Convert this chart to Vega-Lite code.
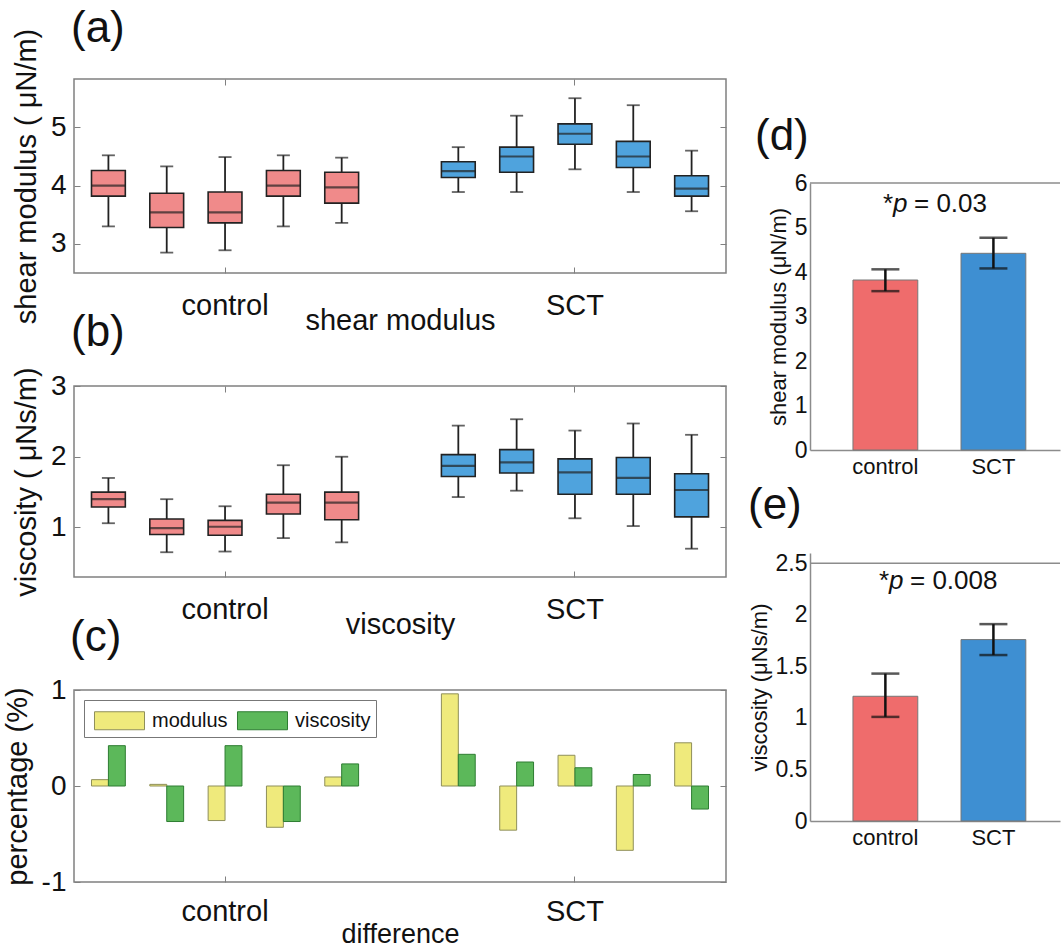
{
  "$schema": "https://vega.github.io/schema/vega-lite/v6.json",
  "padding": {"left": 2, "top": 6, "right": 0, "bottom": 0},
  "background": "white",
  "config": {
    "font": "Liberation Sans",
    "view": {"stroke": null},
    "axis": {"grid": false, "labelColor": "#111", "titleColor": "#111", "labelFont": "Liberation Sans", "titleFont": "Liberation Sans", "titleFontWeight": "normal"},
    "title": {"font": "Liberation Sans", "fontWeight": "normal", "color": "#111", "anchor": "start", "frame": "group", "baseline": "alphabetic", "fontSize": 44},
    "legend": {"labelFont": "Liberation Sans"}
  },
  "datasets": {
    "mod_box": [
      {"sample": "C1", "group": "control", "lo": 3.30, "q1": 3.82, "med": 4.00, "q3": 4.26, "hi": 4.52},
      {"sample": "C2", "group": "control", "lo": 2.85, "q1": 3.28, "med": 3.54, "q3": 3.87, "hi": 4.33},
      {"sample": "C3", "group": "control", "lo": 2.89, "q1": 3.36, "med": 3.54, "q3": 3.89, "hi": 4.49},
      {"sample": "C4", "group": "control", "lo": 3.30, "q1": 3.82, "med": 4.00, "q3": 4.26, "hi": 4.52},
      {"sample": "C5", "group": "control", "lo": 3.36, "q1": 3.70, "med": 3.97, "q3": 4.23, "hi": 4.48},
      {"sample": "S1", "group": "SCT", "lo": 3.89, "q1": 4.14, "med": 4.25, "q3": 4.41, "hi": 4.66},
      {"sample": "S2", "group": "SCT", "lo": 3.89, "q1": 4.23, "med": 4.50, "q3": 4.66, "hi": 5.20},
      {"sample": "S3", "group": "SCT", "lo": 4.28, "q1": 4.71, "med": 4.89, "q3": 5.06, "hi": 5.50},
      {"sample": "S4", "group": "SCT", "lo": 3.89, "q1": 4.31, "med": 4.50, "q3": 4.76, "hi": 5.38},
      {"sample": "S5", "group": "SCT", "lo": 3.56, "q1": 3.82, "med": 3.95, "q3": 4.17, "hi": 4.60}
    ],
    "visc_box": [
      {"sample": "C1", "group": "control", "lo": 1.06, "q1": 1.29, "med": 1.40, "q3": 1.50, "hi": 1.70},
      {"sample": "C2", "group": "control", "lo": 0.65, "q1": 0.90, "med": 0.99, "q3": 1.12, "hi": 1.40},
      {"sample": "C3", "group": "control", "lo": 0.66, "q1": 0.89, "med": 1.01, "q3": 1.10, "hi": 1.30},
      {"sample": "C4", "group": "control", "lo": 0.85, "q1": 1.19, "med": 1.35, "q3": 1.47, "hi": 1.88},
      {"sample": "C5", "group": "control", "lo": 0.79, "q1": 1.11, "med": 1.35, "q3": 1.50, "hi": 2.00},
      {"sample": "S1", "group": "SCT", "lo": 1.43, "q1": 1.72, "med": 1.87, "q3": 2.03, "hi": 2.44},
      {"sample": "S2", "group": "SCT", "lo": 1.52, "q1": 1.77, "med": 1.92, "q3": 2.10, "hi": 2.53},
      {"sample": "S3", "group": "SCT", "lo": 1.13, "q1": 1.47, "med": 1.78, "q3": 1.97, "hi": 2.37},
      {"sample": "S4", "group": "SCT", "lo": 1.02, "q1": 1.47, "med": 1.70, "q3": 1.99, "hi": 2.47},
      {"sample": "S5", "group": "SCT", "lo": 0.70, "q1": 1.15, "med": 1.53, "q3": 1.76, "hi": 2.31}
    ],
    "diff": [
      {"sample": "C1", "measure": "modulus", "value": 0.066}, {"sample": "C1", "measure": "viscosity", "value": 0.42},
      {"sample": "C2", "measure": "modulus", "value": 0.017}, {"sample": "C2", "measure": "viscosity", "value": -0.37},
      {"sample": "C3", "measure": "modulus", "value": -0.36}, {"sample": "C3", "measure": "viscosity", "value": 0.42},
      {"sample": "C4", "measure": "modulus", "value": -0.43}, {"sample": "C4", "measure": "viscosity", "value": -0.37},
      {"sample": "C5", "measure": "modulus", "value": 0.094}, {"sample": "C5", "measure": "viscosity", "value": 0.23},
      {"sample": "S1", "measure": "modulus", "value": 0.96}, {"sample": "S1", "measure": "viscosity", "value": 0.33},
      {"sample": "S2", "measure": "modulus", "value": -0.46}, {"sample": "S2", "measure": "viscosity", "value": 0.25},
      {"sample": "S3", "measure": "modulus", "value": 0.32}, {"sample": "S3", "measure": "viscosity", "value": 0.19},
      {"sample": "S4", "measure": "modulus", "value": -0.67}, {"sample": "S4", "measure": "viscosity", "value": 0.12},
      {"sample": "S5", "measure": "modulus", "value": 0.45}, {"sample": "S5", "measure": "viscosity", "value": -0.24}
    ],
    "mod_mean": [
      {"group": "control", "mean": 3.82, "lo": 3.57, "hi": 4.06},
      {"group": "SCT", "mean": 4.42, "lo": 4.08, "hi": 4.77}
    ],
    "visc_mean": [
      {"group": "control", "mean": 1.21, "lo": 1.01, "hi": 1.43},
      {"group": "SCT", "mean": 1.76, "lo": 1.61, "hi": 1.91}
    ]
  },
  "spacing": 20,
  "resolve": {"scale": {"color": "independent", "stroke": "independent"}},
  "hconcat": [
    {
      "spacing": 113,
      "bounds": "flush",
      "resolve": {"scale": {"color": "independent", "stroke": "independent"}},
      "vconcat": [
        {
          "width": 652, "height": 194,
          "data": {"name": "mod_box"},
          "title": {"text": "(a)", "offset": -23, "dx": -3},
          "view": {"stroke": "#808080", "strokeWidth": 1.5},
          "resolve": {"axis": {"x": "independent", "y": "independent"}},
          "layer": [
            {"mark": {"type": "rule", "color": "#222", "strokeWidth": 1.8},
             "encoding": {
               "x": {"field": "sample", "type": "nominal",
                 "scale": {"domain": ["C1","C2","C3","C4","C5","gap","S1","S2","S3","S4","S5"], "paddingInner": 0.42, "paddingOuter": 0.3},
                 "axis": {"values": ["C3","S3"], "labelExpr": "datum.value == 'C3' ? 'control' : 'SCT'", "labelAngle": 0, "labelFontSize": 29, "title": "shear modulus", "titleFontSize": 29, "titlePadding": -14, "domain": false, "tickSize": -6, "tickColor": "#808080", "labelPadding": 24}},
               "y": {"field": "lo", "type": "quantitative", "scale": {"domain": [2.5, 5.83]},
                 "axis": {"values": [3,4,5], "labelExpr": "'' + datum.value", "labelFontSize": 28, "title": "shear modulus ( μN/m)", "titleFontSize": 29, "titlePadding": 9, "domain": false, "tickSize": -6, "tickColor": "#808080", "labelPadding": 14}},
               "y2": {"field": "hi"}}},
            {"mark": {"type": "tick", "orient": "horizontal", "size": 13, "thickness": 1.8, "color": "#222"},
             "encoding": {
               "x": {"field": "sample", "type": "nominal", "axis": {"orient": "top", "values": ["C3","S3"], "labels": false, "title": null, "domain": false, "tickSize": -6, "tickColor": "#808080"}},
               "y": {"field": "lo", "type": "quantitative", "scale": {"domain": [2.5, 5.83]}, "axis": {"orient": "right", "values": [3,4,5], "labels": false, "title": null, "domain": false, "tickSize": -6, "tickColor": "#808080"}}}},
            {"mark": {"type": "tick", "orient": "horizontal", "size": 13, "thickness": 1.8, "color": "#222"},
             "encoding": {"x": {"field": "sample", "type": "nominal", "axis": null}, "y": {"field": "hi", "type": "quantitative", "scale": {"domain": [2.5, 5.83]}, "axis": null}}},
            {"mark": {"type": "bar", "stroke": "#222", "strokeWidth": 1.6},
             "encoding": {"x": {"field": "sample", "type": "nominal", "axis": null}, "y": {"field": "q1", "type": "quantitative", "scale": {"domain": [2.5, 5.83]}, "axis": null}, "y2": {"field": "q3"},
               "color": {"field": "group", "type": "nominal", "scale": {"domain": ["control","SCT"], "range": ["#F08A8A","#4FA3DD"]}, "legend": null}}},
            {"mark": {"type": "tick", "orient": "horizontal", "size": 34, "thickness": 2.2, "color": "#222"},
             "encoding": {"x": {"field": "sample", "type": "nominal", "axis": null}, "y": {"field": "med", "type": "quantitative", "scale": {"domain": [2.5, 5.83]}, "axis": null}}}
          ]
        },
        {
          "width": 652, "height": 191,
          "data": {"name": "visc_box"},
          "title": {"text": "(b)", "offset": 12, "dx": -3},
          "view": {"stroke": "#808080", "strokeWidth": 1.5},
          "resolve": {"axis": {"x": "independent", "y": "independent"}},
          "layer": [
            {"mark": {"type": "rule", "color": "#222", "strokeWidth": 1.8},
             "encoding": {
               "x": {"field": "sample", "type": "nominal",
                 "scale": {"domain": ["C1","C2","C3","C4","C5","gap","S1","S2","S3","S4","S5"], "paddingInner": 0.42, "paddingOuter": 0.3},
                 "axis": {"values": ["C3","S3"], "labelExpr": "datum.value == 'C3' ? 'control' : 'SCT'", "labelAngle": 0, "labelFontSize": 29, "title": "viscosity", "titleFontSize": 29, "titlePadding": -14, "domain": false, "tickSize": -6, "tickColor": "#808080", "labelPadding": 24}},
               "y": {"field": "lo", "type": "quantitative", "scale": {"domain": [0.3, 3]},
                 "axis": {"values": [1,2,3], "labelExpr": "'' + datum.value", "labelFontSize": 28, "title": "viscosity ( μNs/m)", "titleFontSize": 29, "titlePadding": 9, "domain": false, "tickSize": -6, "tickColor": "#808080", "labelPadding": 14}},
               "y2": {"field": "hi"}}},
            {"mark": {"type": "tick", "orient": "horizontal", "size": 13, "thickness": 1.8, "color": "#222"},
             "encoding": {
               "x": {"field": "sample", "type": "nominal", "axis": {"orient": "top", "values": ["C3","S3"], "labels": false, "title": null, "domain": false, "tickSize": -6, "tickColor": "#808080"}},
               "y": {"field": "lo", "type": "quantitative", "scale": {"domain": [0.3, 3]}, "axis": {"orient": "right", "values": [1,2,3], "labels": false, "title": null, "domain": false, "tickSize": -6, "tickColor": "#808080"}}}},
            {"mark": {"type": "tick", "orient": "horizontal", "size": 13, "thickness": 1.8, "color": "#222"},
             "encoding": {"x": {"field": "sample", "type": "nominal", "axis": null}, "y": {"field": "hi", "type": "quantitative", "scale": {"domain": [0.3, 3]}, "axis": null}}},
            {"mark": {"type": "bar", "stroke": "#222", "strokeWidth": 1.6},
             "encoding": {"x": {"field": "sample", "type": "nominal", "axis": null}, "y": {"field": "q1", "type": "quantitative", "scale": {"domain": [0.3, 3]}, "axis": null}, "y2": {"field": "q3"},
               "color": {"field": "group", "type": "nominal", "scale": {"domain": ["control","SCT"], "range": ["#F08A8A","#4FA3DD"]}, "legend": null}}},
            {"mark": {"type": "tick", "orient": "horizontal", "size": 34, "thickness": 2.2, "color": "#222"},
             "encoding": {"x": {"field": "sample", "type": "nominal", "axis": null}, "y": {"field": "med", "type": "quantitative", "scale": {"domain": [0.3, 3]}, "axis": null}}}
          ]
        },
        {
          "width": 652, "height": 192,
          "data": {"name": "diff"},
          "title": {"text": "(c)", "offset": 16, "dx": -4},
          "view": {"stroke": "#808080", "strokeWidth": 1.5},
          "resolve": {"axis": {"x": "independent", "y": "independent"}},
          "layer": [
            {"mark": {"type": "bar", "orient": "vertical", "strokeWidth": 1},
             "encoding": {
               "x": {"field": "sample", "type": "nominal",
                 "scale": {"domain": ["C1","C2","C3","C4","C5","gap","S1","S2","S3","S4","S5"], "paddingInner": 0.42, "paddingOuter": 0.3},
                 "axis": {"values": ["C3","S3"], "labelExpr": "datum.value == 'C3' ? 'control' : 'SCT'", "labelAngle": 0, "labelFontSize": 29, "title": "difference", "titleFontSize": 27, "titlePadding": -5, "domain": false, "tickSize": -6, "tickColor": "#808080", "labelPadding": 21}},
               "y": {"field": "value", "type": "quantitative", "scale": {"domain": [-1, 1]},
                 "axis": {"values": [-1,0,1], "labelExpr": "'' + datum.value", "labelFontSize": 28, "title": "percentage (%)", "titleFontSize": 29, "titlePadding": 9, "domain": false, "tickSize": -6, "tickColor": "#808080", "labelPadding": 14}},
               "xOffset": {"field": "measure", "type": "nominal", "scale": {"domain": ["modulus","viscosity"]}},
               "color": {"field": "measure", "type": "nominal", "scale": {"domain": ["modulus","viscosity"], "range": ["#EFEA7C","#5CB85A"]},
                 "legend": {"title": null, "orient": "top-left", "direction": "horizontal", "offset": 10, "padding": 5, "strokeColor": "#777", "fillColor": "white", "symbolType": "M-0.667,-0.6L2.667,-0.6L2.667,0.6L-0.667,0.6Z", "symbolSize": 900, "symbolStrokeColor": "#666", "symbolStrokeWidth": 1, "labelFontSize": 20, "labelColor": "#111", "columnPadding": 4, "labelOffset": 32}},
               "stroke": {"field": "measure", "type": "nominal", "scale": {"domain": ["modulus","viscosity"], "range": ["#8f8f5a","#2e7d32"]}, "legend": null}
             }},
            {"data": {"values": [{"base": 0}]},
             "mark": {"type": "rule", "color": "#333", "strokeWidth": 1},
             "encoding": {
               "x": {"field": "base", "type": "nominal", "axis": null},
               "y": {"field": "base", "type": "quantitative", "scale": {"domain": [-1, 1]}, "axis": {"orient": "right", "values": [-1,0,1], "labels": false, "title": null, "domain": false, "tickSize": -6, "tickColor": "#808080"}}}}
          ]
        }
      ]
    },
    {
      "spacing": 103,
      "bounds": "flush",
      "resolve": {"scale": {"color": "independent", "stroke": "independent"}},
      "vconcat": [
        {
          "width": 250, "height": 1,
          "data": {"values": [{"blank": ""}]},
          "mark": {"type": "rect", "opacity": 0},
          "encoding": {}
        },
        {
          "width": 250, "height": 267,
          "data": {"name": "mod_mean"},
          "title": {"text": "(d)", "offset": 13, "dx": -55},
          "layer": [
            {"mark": {"type": "bar", "stroke": "#777", "strokeWidth": 1},
             "encoding": {
               "x": {"field": "group", "type": "nominal", "scale": {"domain": ["control","SCT"], "paddingInner": 0.4, "paddingOuter": 0.357, "align": 0.557},
                 "axis": {"title": null, "labelAngle": 0, "labelFontSize": 22, "ticks": false, "labelPadding": 6, "domainColor": "#8c8c8c", "domainWidth": 1.5}},
               "y": {"field": "mean", "type": "quantitative", "scale": {"domain": [0, 6]},
                 "axis": {"values": [0,1,2,3,4,5,6], "labelFontSize": 23, "title": "shear modulus (μN/m)", "titleFontSize": 22, "titlePadding": 4, "ticks": false, "labelPadding": 3, "domainColor": "#8c8c8c", "domainWidth": 1.5}},
               "color": {"field": "group", "type": "nominal", "scale": {"domain": ["control","SCT"], "range": ["#EF6C6C","#3E8FD2"]}, "legend": null}
             }},
            {"mark": {"type": "rule", "color": "#111", "strokeWidth": 2.5},
             "encoding": {"x": {"field": "group", "type": "nominal"}, "y": {"field": "lo", "type": "quantitative"}, "y2": {"field": "hi"}}},
            {"mark": {"type": "tick", "orient": "horizontal", "size": 28, "thickness": 2.5, "color": "#111"},
             "encoding": {"x": {"field": "group", "type": "nominal"}, "y": {"field": "lo", "type": "quantitative"}}},
            {"mark": {"type": "tick", "orient": "horizontal", "size": 28, "thickness": 2.5, "color": "#111"},
             "encoding": {"x": {"field": "group", "type": "nominal"}, "y": {"field": "hi", "type": "quantitative"}}},
            {"data": {"values": [{"top": 6}]},
             "mark": {"type": "rule", "color": "#8c8c8c", "strokeWidth": 1.5},
             "encoding": {"y": {"field": "top", "type": "quantitative"}}},
            {"data": {"values": [{"label": "= 0.03"}]},
             "layer": [
               {"mark": {"type": "text", "align": "left", "baseline": "alphabetic", "fontSize": 26, "dx": -52, "color": "#111"},
                "encoding": {"y": {"datum": 5.35, "type": "quantitative"}, "text": {"value": "*"}}},
               {"mark": {"type": "text", "align": "left", "baseline": "alphabetic", "fontSize": 26, "dx": -42, "fontStyle": "italic", "color": "#111"},
                "encoding": {"y": {"datum": 5.35, "type": "quantitative"}, "text": {"value": "p"}}},
               {"mark": {"type": "text", "align": "left", "baseline": "alphabetic", "fontSize": 26, "dx": -21, "color": "#111"},
                "encoding": {"y": {"datum": 5.35, "type": "quantitative"}, "text": {"field": "label"}}}
             ]}
          ]
        },
        {
          "width": 250, "height": 268,
          "data": {"name": "visc_mean"},
          "title": {"text": "(e)", "offset": 24, "dx": -62},
          "layer": [
            {"mark": {"type": "bar", "stroke": "#777", "strokeWidth": 1},
             "encoding": {
               "x": {"field": "group", "type": "nominal", "scale": {"domain": ["control","SCT"], "paddingInner": 0.4, "paddingOuter": 0.357, "align": 0.557},
                 "axis": {"title": null, "labelAngle": 0, "labelFontSize": 22, "ticks": false, "labelPadding": 6, "domainColor": "#8c8c8c", "domainWidth": 1.5}},
               "y": {"field": "mean", "type": "quantitative", "scale": {"domain": [0, 2.5]},
                 "axis": {"values": [0,0.5,1,1.5,2,2.5], "labelExpr": "'' + datum.value", "labelFontSize": 23, "title": "viscosity (μNs/m)", "titleFontSize": 22, "titlePadding": 4, "ticks": false, "labelPadding": 3, "domainColor": "#8c8c8c", "domainWidth": 1.5}},
               "color": {"field": "group", "type": "nominal", "scale": {"domain": ["control","SCT"], "range": ["#EF6C6C","#3E8FD2"]}, "legend": null}
             }},
            {"mark": {"type": "rule", "color": "#111", "strokeWidth": 2.5},
             "encoding": {"x": {"field": "group", "type": "nominal"}, "y": {"field": "lo", "type": "quantitative"}, "y2": {"field": "hi"}}},
            {"mark": {"type": "tick", "orient": "horizontal", "size": 28, "thickness": 2.5, "color": "#111"},
             "encoding": {"x": {"field": "group", "type": "nominal"}, "y": {"field": "lo", "type": "quantitative"}}},
            {"mark": {"type": "tick", "orient": "horizontal", "size": 28, "thickness": 2.5, "color": "#111"},
             "encoding": {"x": {"field": "group", "type": "nominal"}, "y": {"field": "hi", "type": "quantitative"}}},
            {"data": {"values": [{"top": 2.5}]},
             "mark": {"type": "rule", "color": "#8c8c8c", "strokeWidth": 1.5},
             "encoding": {"y": {"field": "top", "type": "quantitative"}}},
            {"data": {"values": [{"label": "= 0.008"}]},
             "layer": [
               {"mark": {"type": "text", "align": "left", "baseline": "alphabetic", "fontSize": 26, "dx": -56, "color": "#111"},
                "encoding": {"y": {"datum": 2.25, "type": "quantitative"}, "text": {"value": "*"}}},
               {"mark": {"type": "text", "align": "left", "baseline": "alphabetic", "fontSize": 26, "dx": -46, "fontStyle": "italic", "color": "#111"},
                "encoding": {"y": {"datum": 2.25, "type": "quantitative"}, "text": {"value": "p"}}},
               {"mark": {"type": "text", "align": "left", "baseline": "alphabetic", "fontSize": 26, "dx": -25, "color": "#111"},
                "encoding": {"y": {"datum": 2.25, "type": "quantitative"}, "text": {"field": "label"}}}
             ]}
          ]
        }
      ]
    }
  ]
}
